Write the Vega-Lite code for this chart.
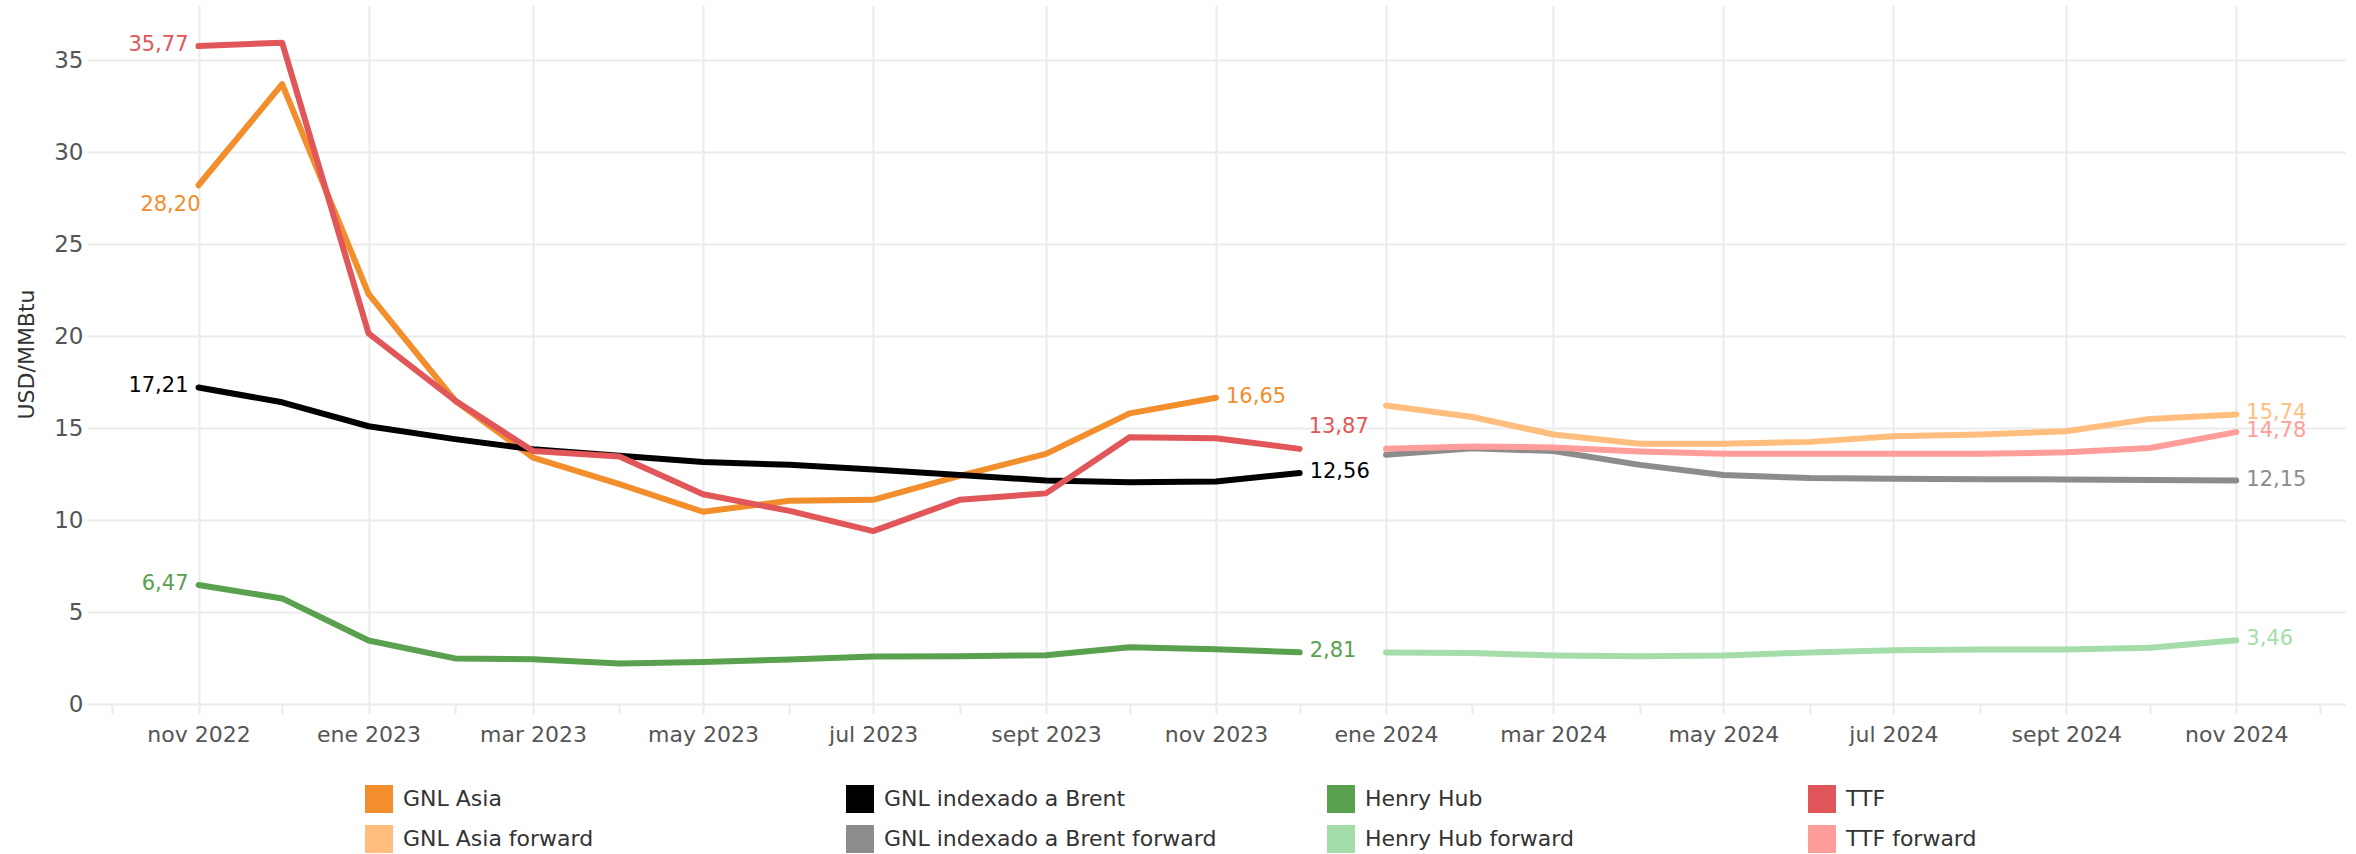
{
  "$schema": "https://vega.github.io/schema/vega-lite/v6.json",
  "width": 2258,
  "height": 699,
  "autosize": {"type": "none"},
  "padding": {"left": 87, "top": 5, "right": 11, "bottom": 150},
  "background": "white",
  "config": {
    "view": {"stroke": null},
    "font": "DejaVu Sans",
    "locale": {"number": {"decimal": ",", "thousands": ".", "grouping": [3], "currency": ["", " €"]}}
  },
  "data": {
    "format": {"parse": {"fecha": "utc:'%Y-%m-%d'"}},
    "values": [
      {"fecha": "2022-11-01", "serie": "GNL Asia", "valor": 28.20},
      {"fecha": "2022-12-01", "serie": "GNL Asia", "valor": 33.7},
      {"fecha": "2023-01-01", "serie": "GNL Asia", "valor": 22.3},
      {"fecha": "2023-02-01", "serie": "GNL Asia", "valor": 16.5},
      {"fecha": "2023-03-01", "serie": "GNL Asia", "valor": 13.4},
      {"fecha": "2023-04-01", "serie": "GNL Asia", "valor": 11.95},
      {"fecha": "2023-05-01", "serie": "GNL Asia", "valor": 10.45},
      {"fecha": "2023-06-01", "serie": "GNL Asia", "valor": 11.05},
      {"fecha": "2023-07-01", "serie": "GNL Asia", "valor": 11.1},
      {"fecha": "2023-08-01", "serie": "GNL Asia", "valor": 12.4},
      {"fecha": "2023-09-01", "serie": "GNL Asia", "valor": 13.6},
      {"fecha": "2023-10-01", "serie": "GNL Asia", "valor": 15.8},
      {"fecha": "2023-11-01", "serie": "GNL Asia", "valor": 16.65},

      {"fecha": "2022-11-01", "serie": "GNL indexado a Brent", "valor": 17.21},
      {"fecha": "2022-12-01", "serie": "GNL indexado a Brent", "valor": 16.4},
      {"fecha": "2023-01-01", "serie": "GNL indexado a Brent", "valor": 15.1},
      {"fecha": "2023-02-01", "serie": "GNL indexado a Brent", "valor": 14.4},
      {"fecha": "2023-03-01", "serie": "GNL indexado a Brent", "valor": 13.85},
      {"fecha": "2023-04-01", "serie": "GNL indexado a Brent", "valor": 13.5},
      {"fecha": "2023-05-01", "serie": "GNL indexado a Brent", "valor": 13.15},
      {"fecha": "2023-06-01", "serie": "GNL indexado a Brent", "valor": 13.0},
      {"fecha": "2023-07-01", "serie": "GNL indexado a Brent", "valor": 12.75},
      {"fecha": "2023-08-01", "serie": "GNL indexado a Brent", "valor": 12.45},
      {"fecha": "2023-09-01", "serie": "GNL indexado a Brent", "valor": 12.15},
      {"fecha": "2023-10-01", "serie": "GNL indexado a Brent", "valor": 12.05},
      {"fecha": "2023-11-01", "serie": "GNL indexado a Brent", "valor": 12.1},
      {"fecha": "2023-12-01", "serie": "GNL indexado a Brent", "valor": 12.56},

      {"fecha": "2022-11-01", "serie": "Henry Hub", "valor": 6.47},
      {"fecha": "2022-12-01", "serie": "Henry Hub", "valor": 5.74},
      {"fecha": "2023-01-01", "serie": "Henry Hub", "valor": 3.45},
      {"fecha": "2023-02-01", "serie": "Henry Hub", "valor": 2.48},
      {"fecha": "2023-03-01", "serie": "Henry Hub", "valor": 2.43},
      {"fecha": "2023-04-01", "serie": "Henry Hub", "valor": 2.2},
      {"fecha": "2023-05-01", "serie": "Henry Hub", "valor": 2.28},
      {"fecha": "2023-06-01", "serie": "Henry Hub", "valor": 2.42},
      {"fecha": "2023-07-01", "serie": "Henry Hub", "valor": 2.58},
      {"fecha": "2023-08-01", "serie": "Henry Hub", "valor": 2.6},
      {"fecha": "2023-09-01", "serie": "Henry Hub", "valor": 2.65},
      {"fecha": "2023-10-01", "serie": "Henry Hub", "valor": 3.08},
      {"fecha": "2023-11-01", "serie": "Henry Hub", "valor": 2.98},
      {"fecha": "2023-12-01", "serie": "Henry Hub", "valor": 2.81},

      {"fecha": "2022-11-01", "serie": "TTF", "valor": 35.77},
      {"fecha": "2022-12-01", "serie": "TTF", "valor": 35.95},
      {"fecha": "2023-01-01", "serie": "TTF", "valor": 20.15},
      {"fecha": "2023-02-01", "serie": "TTF", "valor": 16.5},
      {"fecha": "2023-03-01", "serie": "TTF", "valor": 13.75},
      {"fecha": "2023-04-01", "serie": "TTF", "valor": 13.45},
      {"fecha": "2023-05-01", "serie": "TTF", "valor": 11.4},
      {"fecha": "2023-06-01", "serie": "TTF", "valor": 10.5},
      {"fecha": "2023-07-01", "serie": "TTF", "valor": 9.4},
      {"fecha": "2023-08-01", "serie": "TTF", "valor": 11.1},
      {"fecha": "2023-09-01", "serie": "TTF", "valor": 11.45},
      {"fecha": "2023-10-01", "serie": "TTF", "valor": 14.5},
      {"fecha": "2023-11-01", "serie": "TTF", "valor": 14.45},
      {"fecha": "2023-12-01", "serie": "TTF", "valor": 13.87},

      {"fecha": "2024-01-01", "serie": "GNL Asia forward", "valor": 16.23},
      {"fecha": "2024-02-01", "serie": "GNL Asia forward", "valor": 15.6},
      {"fecha": "2024-03-01", "serie": "GNL Asia forward", "valor": 14.65},
      {"fecha": "2024-04-01", "serie": "GNL Asia forward", "valor": 14.15},
      {"fecha": "2024-05-01", "serie": "GNL Asia forward", "valor": 14.15},
      {"fecha": "2024-06-01", "serie": "GNL Asia forward", "valor": 14.25},
      {"fecha": "2024-07-01", "serie": "GNL Asia forward", "valor": 14.55},
      {"fecha": "2024-08-01", "serie": "GNL Asia forward", "valor": 14.65},
      {"fecha": "2024-09-01", "serie": "GNL Asia forward", "valor": 14.83},
      {"fecha": "2024-10-01", "serie": "GNL Asia forward", "valor": 15.5},
      {"fecha": "2024-11-01", "serie": "GNL Asia forward", "valor": 15.74},

      {"fecha": "2024-01-01", "serie": "GNL indexado a Brent forward", "valor": 13.55},
      {"fecha": "2024-02-01", "serie": "GNL indexado a Brent forward", "valor": 13.9},
      {"fecha": "2024-03-01", "serie": "GNL indexado a Brent forward", "valor": 13.75},
      {"fecha": "2024-04-01", "serie": "GNL indexado a Brent forward", "valor": 13.0},
      {"fecha": "2024-05-01", "serie": "GNL indexado a Brent forward", "valor": 12.45},
      {"fecha": "2024-06-01", "serie": "GNL indexado a Brent forward", "valor": 12.28},
      {"fecha": "2024-07-01", "serie": "GNL indexado a Brent forward", "valor": 12.24},
      {"fecha": "2024-08-01", "serie": "GNL indexado a Brent forward", "valor": 12.22},
      {"fecha": "2024-09-01", "serie": "GNL indexado a Brent forward", "valor": 12.21},
      {"fecha": "2024-10-01", "serie": "GNL indexado a Brent forward", "valor": 12.18},
      {"fecha": "2024-11-01", "serie": "GNL indexado a Brent forward", "valor": 12.15},

      {"fecha": "2024-01-01", "serie": "Henry Hub forward", "valor": 2.8},
      {"fecha": "2024-02-01", "serie": "Henry Hub forward", "valor": 2.77},
      {"fecha": "2024-03-01", "serie": "Henry Hub forward", "valor": 2.64},
      {"fecha": "2024-04-01", "serie": "Henry Hub forward", "valor": 2.6},
      {"fecha": "2024-05-01", "serie": "Henry Hub forward", "valor": 2.64},
      {"fecha": "2024-06-01", "serie": "Henry Hub forward", "valor": 2.8},
      {"fecha": "2024-07-01", "serie": "Henry Hub forward", "valor": 2.92},
      {"fecha": "2024-08-01", "serie": "Henry Hub forward", "valor": 2.96},
      {"fecha": "2024-09-01", "serie": "Henry Hub forward", "valor": 2.96},
      {"fecha": "2024-10-01", "serie": "Henry Hub forward", "valor": 3.06},
      {"fecha": "2024-11-01", "serie": "Henry Hub forward", "valor": 3.46},

      {"fecha": "2024-01-01", "serie": "TTF forward", "valor": 13.87},
      {"fecha": "2024-02-01", "serie": "TTF forward", "valor": 14.0},
      {"fecha": "2024-03-01", "serie": "TTF forward", "valor": 13.95},
      {"fecha": "2024-04-01", "serie": "TTF forward", "valor": 13.73},
      {"fecha": "2024-05-01", "serie": "TTF forward", "valor": 13.6},
      {"fecha": "2024-06-01", "serie": "TTF forward", "valor": 13.6},
      {"fecha": "2024-07-01", "serie": "TTF forward", "valor": 13.6},
      {"fecha": "2024-08-01", "serie": "TTF forward", "valor": 13.6},
      {"fecha": "2024-09-01", "serie": "TTF forward", "valor": 13.68},
      {"fecha": "2024-10-01", "serie": "TTF forward", "valor": 13.92},
      {"fecha": "2024-11-01", "serie": "TTF forward", "valor": 14.78}
    ]
  },
  "encoding": {
    "x": {
      "field": "fecha",
      "type": "temporal",
      "scale": {
        "type": "utc",
        "domain": [
          {"year": 2022, "month": 9, "date": 22, "utc": true},
          {"year": 2024, "month": 12, "date": 10, "utc": true}
        ]
      },
      "axis": {
        "title": null,
        "values": [
          {"year": 2022, "month": 10, "date": 1, "utc": true},
          {"year": 2022, "month": 11, "date": 1, "utc": true},
          {"year": 2022, "month": 12, "date": 1, "utc": true},
          {"year": 2023, "month": 1, "date": 1, "utc": true},
          {"year": 2023, "month": 2, "date": 1, "utc": true},
          {"year": 2023, "month": 3, "date": 1, "utc": true},
          {"year": 2023, "month": 4, "date": 1, "utc": true},
          {"year": 2023, "month": 5, "date": 1, "utc": true},
          {"year": 2023, "month": 6, "date": 1, "utc": true},
          {"year": 2023, "month": 7, "date": 1, "utc": true},
          {"year": 2023, "month": 8, "date": 1, "utc": true},
          {"year": 2023, "month": 9, "date": 1, "utc": true},
          {"year": 2023, "month": 10, "date": 1, "utc": true},
          {"year": 2023, "month": 11, "date": 1, "utc": true},
          {"year": 2023, "month": 12, "date": 1, "utc": true},
          {"year": 2024, "month": 1, "date": 1, "utc": true},
          {"year": 2024, "month": 2, "date": 1, "utc": true},
          {"year": 2024, "month": 3, "date": 1, "utc": true},
          {"year": 2024, "month": 4, "date": 1, "utc": true},
          {"year": 2024, "month": 5, "date": 1, "utc": true},
          {"year": 2024, "month": 6, "date": 1, "utc": true},
          {"year": 2024, "month": 7, "date": 1, "utc": true},
          {"year": 2024, "month": 8, "date": 1, "utc": true},
          {"year": 2024, "month": 9, "date": 1, "utc": true},
          {"year": 2024, "month": 10, "date": 1, "utc": true},
          {"year": 2024, "month": 11, "date": 1, "utc": true},
          {"year": 2024, "month": 12, "date": 1, "utc": true}
        ],
        "labelExpr": "utcmonth(datum.value) % 2 == 0 ? ['ene','feb','mar','abr','may','jun','jul','ago','sept','oct','nov','dic'][utcmonth(datum.value)] + ' ' + utcyear(datum.value) : ''",
        "labelFontSize": 22,
        "labelColor": "#555555",
        "labelPadding": 10,
        "labelOverlap": false,
        "labelFlush": false,
        "labelBound": false,
        "domain": false,
        "tickColor": "#ebebeb",
        "tickSize": 10,
        "tickWidth": 2,
        "grid": true,
        "gridColor": "#ebebeb",
        "gridWidth": 2,
        "gridOpacity": {"condition": {"test": "utcmonth(datum.value) % 2 == 0", "value": 1}, "value": 0}
      }
    },
    "y": {
      "field": "valor",
      "type": "quantitative",
      "scale": {"domain": [0, 38], "nice": false, "zero": false},
      "axis": {
        "values": [0, 5, 10, 15, 20, 25, 30, 35],
        "title": "USD/MMBtu",
        "titleFontSize": 22,
        "titleFontWeight": "normal",
        "titleColor": "#333333",
        "titleAngle": 270,
        "titleAlign": "center",
        "titleBaseline": "middle",
        "titleX": -61,
        "titleY": 349,
        "labelFontSize": 23,
        "labelColor": "#555555",
        "labelPadding": 4,
        "ticks": false,
        "domain": false,
        "grid": true,
        "gridColor": "#ebebeb",
        "gridWidth": 2
      }
    },
    "color": {
      "field": "serie",
      "type": "nominal",
      "scale": {
        "domain": ["GNL Asia", "GNL indexado a Brent", "Henry Hub", "TTF", "GNL Asia forward", "GNL indexado a Brent forward", "Henry Hub forward", "TTF forward"],
        "range": ["#f28e2b", "#000000", "#59a14f", "#e15759", "#ffbe7d", "#8c8c8c", "#a4dcaa", "#ff9d9a"]
      },
      "legend": {
        "orient": "none",
        "legendX": 278,
        "legendY": 780,
        "direction": "horizontal",
        "columns": 4,
        "title": null,
        "symbolType": "square",
        "symbolSize": 784,
        "symbolStrokeWidth": 0,
        "labelFontSize": 22,
        "labelColor": "#333333",
        "labelOffset": 10,
        "labelLimit": 500,
        "columnPadding": 110,
        "rowPadding": 12,
        "gridAlign": "all",
        "padding": 0,
        "encode": {
          "symbols": {
            "update": {
              "fill": {"scale": "color", "field": "value"},
              "stroke": {"value": "transparent"},
              "strokeWidth": {"value": 0},
              "opacity": {"value": 1}
            }
          }
        }
      }
    }
  },
  "layer": [
    {
      "mark": {"type": "line", "strokeWidth": 6, "strokeCap": "round", "strokeJoin": "round"}
    },
    {
      "transform": [
        {"filter": "utcyear(datum.fecha) == 2022 && utcmonth(datum.fecha) == 10 && datum.serie != 'GNL Asia'"}
      ],
      "mark": {"type": "text", "align": "right", "baseline": "middle", "dx": -10, "dy": -1, "fontSize": 21},
      "encoding": {
        "text": {"field": "valor", "type": "quantitative", "format": ".2f"}
      }
    },
    {
      "transform": [
        {"filter": "utcyear(datum.fecha) == 2022 && utcmonth(datum.fecha) == 10 && datum.serie == 'GNL Asia'"}
      ],
      "mark": {"type": "text", "align": "right", "baseline": "middle", "dx": 2, "dy": 20, "fontSize": 21},
      "encoding": {
        "text": {"field": "valor", "type": "quantitative", "format": ".2f"}
      }
    },
    {
      "transform": [
        {"joinaggregate": [{"op": "max", "field": "fecha", "as": "ultima"}], "groupby": ["serie"]},
        {"filter": "time(datum.fecha) == time(datum.ultima) && datum.serie != 'TTF'"}
      ],
      "mark": {"type": "text", "align": "left", "baseline": "middle", "dx": 10, "dy": -1, "fontSize": 21},
      "encoding": {
        "text": {"field": "valor", "type": "quantitative", "format": ".2f"}
      }
    },
    {
      "transform": [
        {"joinaggregate": [{"op": "max", "field": "fecha", "as": "ultima"}], "groupby": ["serie"]},
        {"filter": "time(datum.fecha) == time(datum.ultima) && datum.serie == 'TTF'"}
      ],
      "mark": {"type": "text", "align": "left", "baseline": "middle", "dx": 9, "dy": -22, "fontSize": 21},
      "encoding": {
        "text": {"field": "valor", "type": "quantitative", "format": ".2f"}
      }
    }
  ]
}
